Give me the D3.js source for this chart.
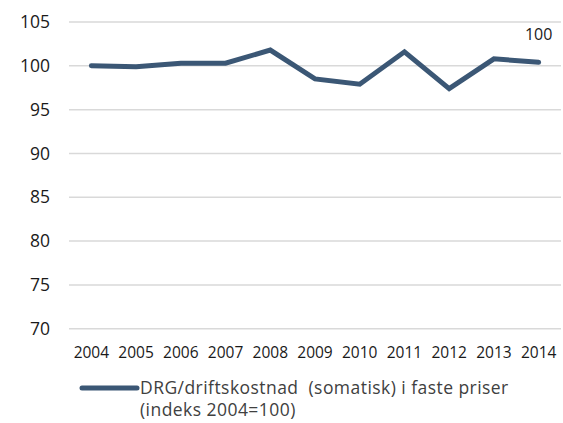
<!DOCTYPE html>
<html>
<head>
<meta charset="utf-8">
<script src="https://cdn.jsdelivr.net/npm/d3@7"></script>
<style>
  body { margin: 0; background: #fff; }
  text { font-family: "Open Sans", "Liberation Sans", sans-serif; fill: #1a1a1a; }
</style>
</head>
<body>
<div id="chart"></div>
<script>
// data
const years = ["2004", "2005", "2006", "2007", "2008", "2009", "2010", "2011", "2012", "2013", "2014"];
const values = [100.0, 99.9, 100.3, 100.3, 101.8, 98.5, 97.9, 101.6, 97.4, 100.8, 100.4];
const yTicks = [70, 75, 80, 85, 90, 95, 100, 105];
const seriesName = ["DRG/driftskostnad  (somatisk) i faste priser", "(indeks 2004=100)"];
const lastLabel = "100";

var width = 563, height = 423;
var margin = { top: 22, right: 2, bottom: 94, left: 69 };

const svg = d3.select("#chart")
  .append("svg")
  .attr("width", width)
  .attr("height", height);

var x = d3.scaleBand()
  .domain(years)
  .range([margin.left, width - margin.right]);

var y = d3.scaleLinear()
  .domain([70, 105])
  .range([height - margin.bottom - 0.3, margin.top]);

// gridlines
svg.append("g")
  .selectAll("line")
  .data(yTicks)
  .join("line")
    .attr("x1", margin.left)
    .attr("x2", width - margin.right)
    .attr("y1", d => y(d))
    .attr("y2", d => y(d))
    .attr("stroke", "#d9d9d9")
    .attr("stroke-width", 1.5);

// y axis labels
var yAxis = d3.axisLeft(y).tickValues(yTicks).tickSize(0).tickPadding(0);
svg.append("g")
  .attr("transform", "translate(50,0)")
  .call(yAxis)
  .call(g => g.select(".domain").remove())
  .selectAll("text")
    .style("font-size", "17.5px")
    .attr("fill", "#1a1a1a");

// x axis labels
var xAxis = d3.axisBottom(x).tickSize(0).tickPadding(0);
svg.append("g")
  .attr("transform", "translate(0," + (y(70) + 18) + ")")
  .call(xAxis)
  .call(g => g.select(".domain").remove())
  .selectAll("text")
    .style("font-size", "15.5px")
    .attr("fill", "#1a1a1a");

// the line
var line = d3.line()
  .x((d, i) => x(years[i]) + x.bandwidth() / 2)
  .y(d => y(d));

svg.append("path")
  .datum(values)
  .attr("d", line)
  .attr("fill", "none")
  .attr("stroke", "#3b5775")
  .attr("stroke-width", 5)
  .attr("stroke-linejoin", "miter")
  .attr("stroke-linecap", "round");

// label on last point
var n = years.length - 1;
svg.append("text")
  .attr("x", x(years[n]) + x.bandwidth() / 2)
  .attr("y", y(values[n]) - 22)
  .attr("text-anchor", "middle")
  .style("font-size", "16px")
  .text(lastLabel);

// legend
var lg = svg.append("g").attr("transform", "translate(82,388)");
lg.append("line")
  .attr("x1", 0).attr("x2", 55)
  .attr("y1", 0).attr("y2", 0)
  .attr("stroke", "#3b5775")
  .attr("stroke-width", 5)
  .attr("stroke-linecap", "round");
lg.selectAll("text.leg")
  .data(seriesName)
  .join("text")
    .attr("class", "leg")
    .attr("x", 58)
    .attr("y", (d, i) => 6 + i * 22)
    .style("font-size", "17.5px")
    .style("letter-spacing", "0.45px")
    .style("white-space", "pre")
    .style("fill", "#404040")
    .text(d => d);
</script>
</body>
</html>
